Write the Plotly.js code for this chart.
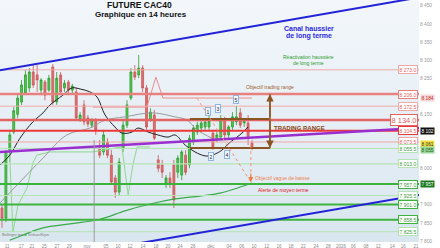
<!DOCTYPE html>
<html><head><meta charset="utf-8">
<script src="https://cdn.plot.ly/plotly-3.0.1.min.js"></script>
<style>html,body{margin:0;padding:0;background:#fff;}#chart{width:440px;height:248px;}</style>
</head><body><div id="chart"></div>
<script>
// ---- Candles (14h) ----
const opens  = [7891,7863,8051,8101,8150,8184,8209,8223,8267,8259,8217,8239,8217,8281,8184,8259,8223,8239,8217,8212,8134,8176,8140,8120,8134,8057,8046,8073,8037,7974,7935,8057,8120,8195,8267,8259,8278,8223,8134,8148,8024,8010,7960,7974,8010,7990,7982,8037,8010,8073,8101,8112,8115,8115,8098,8079,8087,8134,8093,8115,8129,8154,8126,8126,8071];
const closes = [7863,8046,8093,8160,8195,8231,8259,8267,8231,8245,8245,8203,8250,8184,8250,8212,8236,8217,8228,8140,8148,8129,8123,8134,8107,8037,8093,8037,7963,7935,8018,8120,8176,8267,8253,8278,8223,8115,8156,8084,8001,7990,7974,7960,7913,8029,8046,7990,8084,8112,8120,8126,8129,8131,8060,8093,8134,8093,8115,8143,8143,8120,8134,8084,8060];
const highs  = [7902,8051,8107,8170,8203,8245,8272,8278,8286,8286,8250,8245,8259,8289,8267,8267,8245,8245,8234,8223,8156,8189,8148,8140,8140,8079,8107,8084,8051,7982,8029,8134,8189,8278,8286,8314,8286,8231,8167,8162,8037,8024,7982,7990,8024,8037,8051,8051,8093,8120,8129,8134,8140,8145,8107,8101,8148,8143,8120,8156,8173,8167,8140,8148,8079];
const lows   = [7836,7852,8018,8095,8140,8176,8203,8212,8223,8212,8203,8189,8212,8176,8176,8203,8212,8203,8209,8134,8129,8120,8115,8112,8093,8029,8037,8029,7955,7919,7927,8046,8112,8189,8245,8250,8212,8107,8129,8079,7990,7974,7946,7946,7891,7974,7968,7982,8001,8065,8093,8101,8107,8107,8051,8073,8079,8084,8084,8107,8120,8112,8115,8065,8051];
const candleIdx = opens.map((_, i) => i);

// ---- Moving averages / indicator lines ----
const maFastX = [-0.5,2.0,4.6,7.9,10.5,12.3,15.6,17.9,20.0,22.5,24.3,26.4,28.9,30.7,33.3,34.8,37.4,39.9,42.5,44.3,46.9,49.4,52.0,53.8,56.3,58.4,60.9,63.0];
const maFastY = [8010,8037,8084,8129,8154,8176,8203,8223,8220,8212,8198,8148,8115,8098,8101,8112,8101,8093,8087,8093,8065,8046,8035,8037,8051,8073,8093,8115];
const maMidX  = [-0.5,4.6,10.5,16.6,22.5,26.4,31.5,38.4,44.3,47.4,49.9,53.8];
const maMidY  = [7905,7963,8029,8093,8112,8134,8143,8154,8143,8134,8107,8084];
const maSlowX = [2.0,4.6,10.5,17.4,25.1,31.5,37.9,44.3,50.7,55.8,64.0];
const maSlowY = [7802,7813,7836,7847,7860,7883,7902,7916,7924,7932,7960];
const lagX    = [0.8,2.0,2.8,4.1,6.4,7.9,8.9,12.3,23.3,29.7,30.7,32.3,33.5,34.6,37.9];
const lagY    = [8051,8029,7825,7899,7946,8015,8037,8046,8046,8057,8060,7927,8010,8060,8060];
const resX    = [23.3,37.1,39.4,41.2,64.0];
const resY    = [8170,8170,8253,8195,8195];

// ---- Horizontal levels ----
const levels      = [8273.0,8206.0,8172.5,8134.0,8104.5,8073.5,8055.5,8013.0,7957.0,7925.5,7901.0,7858.5,7825.5];
const levelLabels = ['8 273.0','8 206.0','8 172.5','8 134.0','8 104.5','8 073.5','8 055.5','8 013.0','7 957.0','7 925.5','7 901.0','7 858.5','7 825.5'];

// ---- Trend lines (index, price) ----
const channelUp   = [[-0.51,8272],[106.75,8473]];
const channelDown = [[35.3,7794],[106.75,7927]];
const purpleLine  = [[-0.51,8046],[106.75,8112]];
const rangeTop = 8137, rangeBottom = 8057, rangeX0 = 48.1, rangeX1 = 68.6, rangeTarget = 8206;
const waveLine = [[49.9,8195],[63.7,7963]];
const waveVert = [[63.7,8065],[63.7,7963]];
const waveLabels = [['1',52.7,8159],['3',55.3,8166],['5',59.9,8190],['2',53.5,8032],['4',57.6,8040]];

// ---- Axes ticks (labels hidden under price tags are left out) ----
const yTicks = [8450,8400,8350,8300,8250,8150,8000,7900,7850,7800];
const yTickText = ['8 450','8 400','8 350','8 300','8 250','8 150','8 000','7 900','7 850','7 800'];
const xTicks = [1.3,4.9,7.7,10.8,14.1,17.2,21.8,26.6,29.7,32.8,36.1,39.4,42.5,45.6,48.9,53.5,58.1,61.4,64.5,67.8,70.9,74.0,77.1,80.4,83.5,86.8,89.9,93.2,96.3,99.9,102.7,106.0];
const xTickText = ['11','17','21','25','27','29','nov','05','10','12','14','18','20','24','26','déc','04','06','10','12','16','18','22','24','28','2026','06','08','12','14','16','21'];

// ---- styles ----
const FONT = 'Liberation Sans, Arial, sans-serif';
const LR = '#f2a9a9', LG = '#b4e4b4', G = '#3cb43c';
const levelColor = [LR,'#e98080',LR,'#e46464','#ee3838',LR,LG,LG,G,LG,G,G,LG];
const levelWidth = [1,2.5,1,2.5,2,1,1,1.2,2,1,2,2,1];

const shapes = [];
const annotations = [];
levels.forEach((lv, k) => {
  shapes.push({type:'line', xref:'paper', x0:0, x1:1, yref:'y', y0:lv, y1:lv,
    line:{color:levelColor[k], width:levelWidth[k]}});
  const big = lv === 8134.0;
  annotations.push({xref:'paper', x:0.997, xanchor:'right', yref:'y', y:lv, yanchor:'middle',
    text:levelLabels[k], showarrow:false, bgcolor:'#ffffff', bordercolor:levelColor[k], borderwidth:1, borderpad:0.5,
    font:{family:FONT, size: big ? 7.5 : 5, color: k < 6 ? '#e06060' : '#3a9a3a'}});
});
function seg(p, color, width, dash) {
  shapes.push({type:'line', xref:'x', yref:'y', x0:p[0][0], y0:p[0][1], x1:p[1][0], y1:p[1][1],
    line:{color:color, width:width, dash:dash || 'solid'}});
}
seg(channelUp, '#2323d8', 2);
seg(channelDown, '#2323d8', 2);
seg(purpleLine, '#9a2fd0', 2.5);
shapes.push({type:'line', xref:'x', yref:'y', x0:23.6, x1:23.6, y0:8079, y1:7797, line:{color:'#9a9a9a', width:1}});
// trading range
seg([[rangeX0, rangeTop],[rangeX1, rangeTop]], '#8b5523', 2);
seg([[rangeX0, rangeBottom],[rangeX1, rangeBottom]], '#8b5523', 2);
seg([[rangeX1, rangeTarget],[rangeX1, rangeBottom]], '#9b6a3a', 1.5);
annotations.push({x:rangeX1, y:rangeTarget, ax:rangeX1, ay:rangeTop, axref:'x', ayref:'y', xref:'x', yref:'y',
  showarrow:true, arrowhead:2, arrowsize:1, arrowwidth:1.5, arrowcolor:'#8b5523', text:''});
annotations.push({x:rangeX1, y:rangeBottom, ax:rangeX1, ay:rangeTop, axref:'x', ayref:'y', xref:'x', yref:'y',
  showarrow:true, arrowhead:2, arrowsize:1, arrowwidth:1.5, arrowcolor:'#8b5523', text:''});
// wave target
seg(waveLine, '#f4936a', 1, 'dot');
seg(waveVert, '#f4936a', 1, 'dot');
annotations.push({x:waveVert[1][0], y:waveVert[1][1], ax:0, ay:-10, xref:'x', yref:'y',
  showarrow:true, arrowhead:2, arrowsize:1, arrowwidth:1, arrowcolor:'#f07a40', text:''});
waveLabels.forEach(w => annotations.push({x:w[1], y:w[2], xref:'x', yref:'y', text:w[0], showarrow:false,
  bgcolor:'#f2f7ff', bordercolor:'#8fb4e6', borderwidth:1, borderpad:0.5, font:{family:FONT, size:5, color:'#222'}}));

// texts
const txt = (t, x, y, size, color, bold, anchor) => annotations.push({xref:'paper', yref:'paper', x:x, y:y,
  xanchor:anchor || 'center', yanchor:'middle', text: bold ? '<b>'+t+'</b>' : t, showarrow:false,
  font:{family:FONT, size:size, color:color}});
txt('FUTURE CAC40', 0.334, 0.978, 8.5, '#111', true);
txt('Graphique en 14 heures', 0.336, 0.940, 8, '#111', true);
txt('Canal haussier', 0.737, 0.884, 7, '#2a2ae0', true);
txt('de long terme', 0.737, 0.853, 7, '#2a2ae0', true);
txt('Réactivation haussière', 0.737, 0.764, 5, '#2e9e2e', false);
txt('de long terme', 0.737, 0.740, 5, '#2e9e2e', false);
txt('Objectif trading range', 0.644, 0.641, 5, '#a0622d', false);
txt('TRADING RANGE', 0.650, 0.472, 6, '#8b4513', true, 'left');
txt('Objectif vague de baisse', 0.604, 0.266, 5, '#f07f4f', false, 'left');
txt('Alerte de moyen terme', 0.611, 0.216, 5, '#e02020', false, 'left');
txt('Bollinger ma <span style="color:#3cb43c">■</span> Tenkan/Kijun', 0.0, 0.027, 3.8, '#777', false, 'left');
// price tags on axis
const tag = (t, y, bg, fg) => annotations.push({xref:'paper', x:1.003, xanchor:'left', yref:'y', y:y, text:t, showarrow:false,
  bgcolor:bg, borderpad:0.5, font:{family:FONT, size:4.8, color:fg}});
tag('8 184', 8195, '#f7d6d6', '#c03030');
tag('8 102', 8104.5, '#111', '#fff');
tag('8 061', 8068, '#f2e040', '#333');
tag('8 055', 8052, '#9ad89a', '#1a5a1a');
tag('7 957', 7957, '#1e7a1e', '#fff');

const bg = 'data:image/svg+xml;utf8,' + encodeURIComponent('<svg xmlns="http://www.w3.org/2000/svg" width="10" height="10" preserveAspectRatio="none"><defs><linearGradient id="g" x1="0" y1="0" x2="0" y2="1"><stop offset="0" stop-color="#f3f7fb"/><stop offset="1" stop-color="#d9e6ef"/></linearGradient></defs><rect width="10" height="10" fill="url(#g)"/></svg>');

const traces = [
  {type:'scatter', mode:'lines', x:maSlowX, y:maSlowY, line:{color:'#3aaa4a', width:1.2, shape:'spline'}, hoverinfo:'skip'},
  {type:'scatter', mode:'lines', x:lagX, y:lagY, line:{color:'#8fd88f', width:1}, hoverinfo:'skip'},
  {type:'scatter', mode:'lines', x:resX, y:resY, line:{color:'#f08a8a', width:1}, hoverinfo:'skip'},
  {type:'scatter', mode:'lines', x:maMidX, y:maMidY, line:{color:'#9a9a9a', width:1, shape:'spline'}, hoverinfo:'skip'},
  {type:'scatter', mode:'lines', x:maFastX, y:maFastY, line:{color:'#222', width:1, shape:'spline'}, hoverinfo:'skip'},
  {type:'candlestick', x:candleIdx, open:opens, high:highs, low:lows, close:closes, whiskerwidth:0,
   increasing:{line:{color:'#2f9a2f', width:0.8}, fillcolor:'#4ccc4c'},
   decreasing:{line:{color:'#c85555', width:0.8}, fillcolor:'#e27070'}, hoverinfo:'skip'}
];

const layout = {
  width:440, height:248, margin:{l:0, r:21, t:0, b:6},
  paper_bgcolor:'#ffffff', plot_bgcolor:'rgba(0,0,0,0)', showlegend:false,
  font:{family:FONT},
  images:[{source:bg, xref:'paper', yref:'paper', x:0, y:1, sizex:1, sizey:1, sizing:'stretch', xanchor:'left', yanchor:'top', layer:'below'}],
  xaxis:{range:[-0.51,106.75], showgrid:false, zeroline:false, showline:false, rangeslider:{visible:false},
    tickmode:'array', tickvals:xTicks, ticktext:xTickText, ticks:'', tickfont:{size:4.5, color:'#888', family:FONT}, ticklen:0},
  yaxis:{range:[7797,8466], side:'right', showgrid:false, zeroline:false, showline:false,
    tickmode:'array', tickvals:yTicks, ticktext:yTickText, ticks:'', tickfont:{size:4.8, color:'#999', family:FONT}},
  shapes:shapes, annotations:annotations
};
Plotly.newPlot('chart', traces, layout, {staticPlot:true, displayModeBar:false});
</script></body></html>
